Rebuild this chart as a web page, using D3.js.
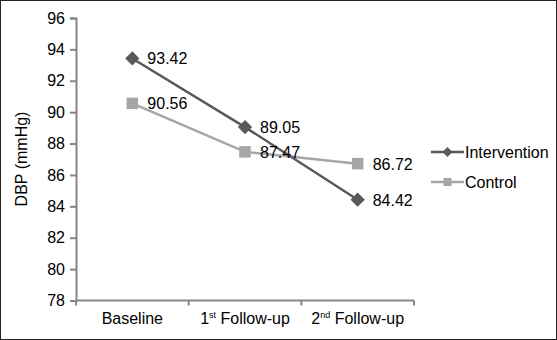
<!DOCTYPE html>
<html><head><meta charset="utf-8">
<script src="https://cdn.jsdelivr.net/npm/d3@7"></script>
<style>body{margin:0;background:#fff}svg text{font-family:Arial,"Liberation Sans",sans-serif;fill:#000}</style>
</head><body><svg id="c" width="557" height="340"></svg>
<script>
const categories = ["Baseline", "1st Follow-up", "2nd Follow-up"];
const catMain = ["Baseline", "1", "2"];
const catSup = ["", "st", "nd"];
const seriesNames = ["Intervention", "Control"];
const intervention = [93.42, 89.05, 84.42];
const control = [90.56, 87.47, 86.72];
const yTicks = [78, 80, 82, 84, 86, 88, 90, 92, 94, 96];

const svg = d3.select("#c");
svg.append("rect").attr("x",0.5).attr("y",0.5).attr("width",556).attr("height",339)
  .attr("fill","#fff").attr("stroke","#222").attr("stroke-width",1);

const x = d3.scaleBand().domain(categories).range([76, 414]);
const y = d3.scaleLinear().domain([78, 96]).range([300.5, 18]);
const axisColor = "#868686";
const fs = 16;

const ya = svg.append("g").attr("transform","translate(76,0)")
  .call(d3.axisLeft(y).tickValues(yTicks).tickSize(6).tickPadding(5).tickFormat(d3.format("d")));
ya.select(".domain").attr("stroke",axisColor).attr("stroke-width",2);
ya.selectAll(".tick line").attr("stroke",axisColor).attr("stroke-width",2);
ya.selectAll(".tick text").attr("font-size",fs).attr("fill","#000");

const xa = svg.append("g").attr("transform","translate(0,300.5)");
xa.append("line").attr("x1",76).attr("x2",414).attr("stroke",axisColor).attr("stroke-width",2);
const bounds = categories.map(c=>x(c)).concat([x(categories[2])+x.bandwidth()]);
bounds.forEach(b=>xa.append("line").attr("x1",b).attr("x2",b).attr("y1",0).attr("y2",5).attr("stroke",axisColor).attr("stroke-width",2));

categories.forEach((c,i)=>{
  const t = svg.append("text").attr("x", x(c)+x.bandwidth()/2).attr("y", 324)
    .attr("text-anchor","middle").attr("font-size",fs);
  t.append("tspan").text(catMain[i]);
  if (catSup[i]) {
    t.append("tspan").attr("font-size",9).attr("dy",-6).text(catSup[i]);
    t.append("tspan").attr("dy",6).text(" Follow-up");
  }
});

svg.append("text").attr("transform","translate(27,159) rotate(-90)")
  .attr("text-anchor","middle").attr("font-size",fs).text("DBP (mmHg)");

const cx = c => x(c)+x.bandwidth()/2;
const series = [
  {name: seriesNames[0], vals: intervention, color:"#595959", shape:"diamond"},
  {name: seriesNames[1], vals: control, color:"#a6a6a6", shape:"square"}
];
const line = d3.line().x((d,i)=>cx(categories[i])).y(d=>y(d));
function marker(g, shape, px, py, color, s){
  if (shape==="diamond") {
    g.append("path").attr("d", `M0,${-s*0.62}L${s*0.62},0L0,${s*0.62}L${-s*0.62},0Z`)
      .attr("transform",`translate(${px},${py})`).attr("fill",color);
  } else {
    g.append("rect").attr("x",px-s/2).attr("y",py-s/2).attr("width",s).attr("height",s).attr("fill",color);
  }
}
[series[1], series[0]].forEach(s=>{
  svg.append("path").datum(s.vals).attr("d",line).attr("fill","none").attr("stroke",s.color).attr("stroke-width",2.5);
});
[series[1], series[0]].forEach(s=>{
  s.vals.forEach((v,i)=>marker(svg, s.shape, cx(categories[i]), y(v), s.color, 11.5));
});
series.forEach(s=>{
  s.vals.forEach((v,i)=>{
    svg.append("text").attr("x", cx(categories[i])+15).attr("y", y(v)+6)
      .attr("font-size",fs).text(v.toFixed(2));
  });
});

// legend
series.forEach((s,i)=>{
  const ly = 152 + i*30;
  svg.append("line").attr("x1",431).attr("x2",464).attr("y1",ly).attr("y2",ly).attr("stroke",s.color).attr("stroke-width",2.5);
  marker(svg, s.shape, 447.5, ly, s.color, 8);
  svg.append("text").attr("x",465).attr("y",ly+6).attr("font-size",fs).text(s.name);
});
</script></body></html>
